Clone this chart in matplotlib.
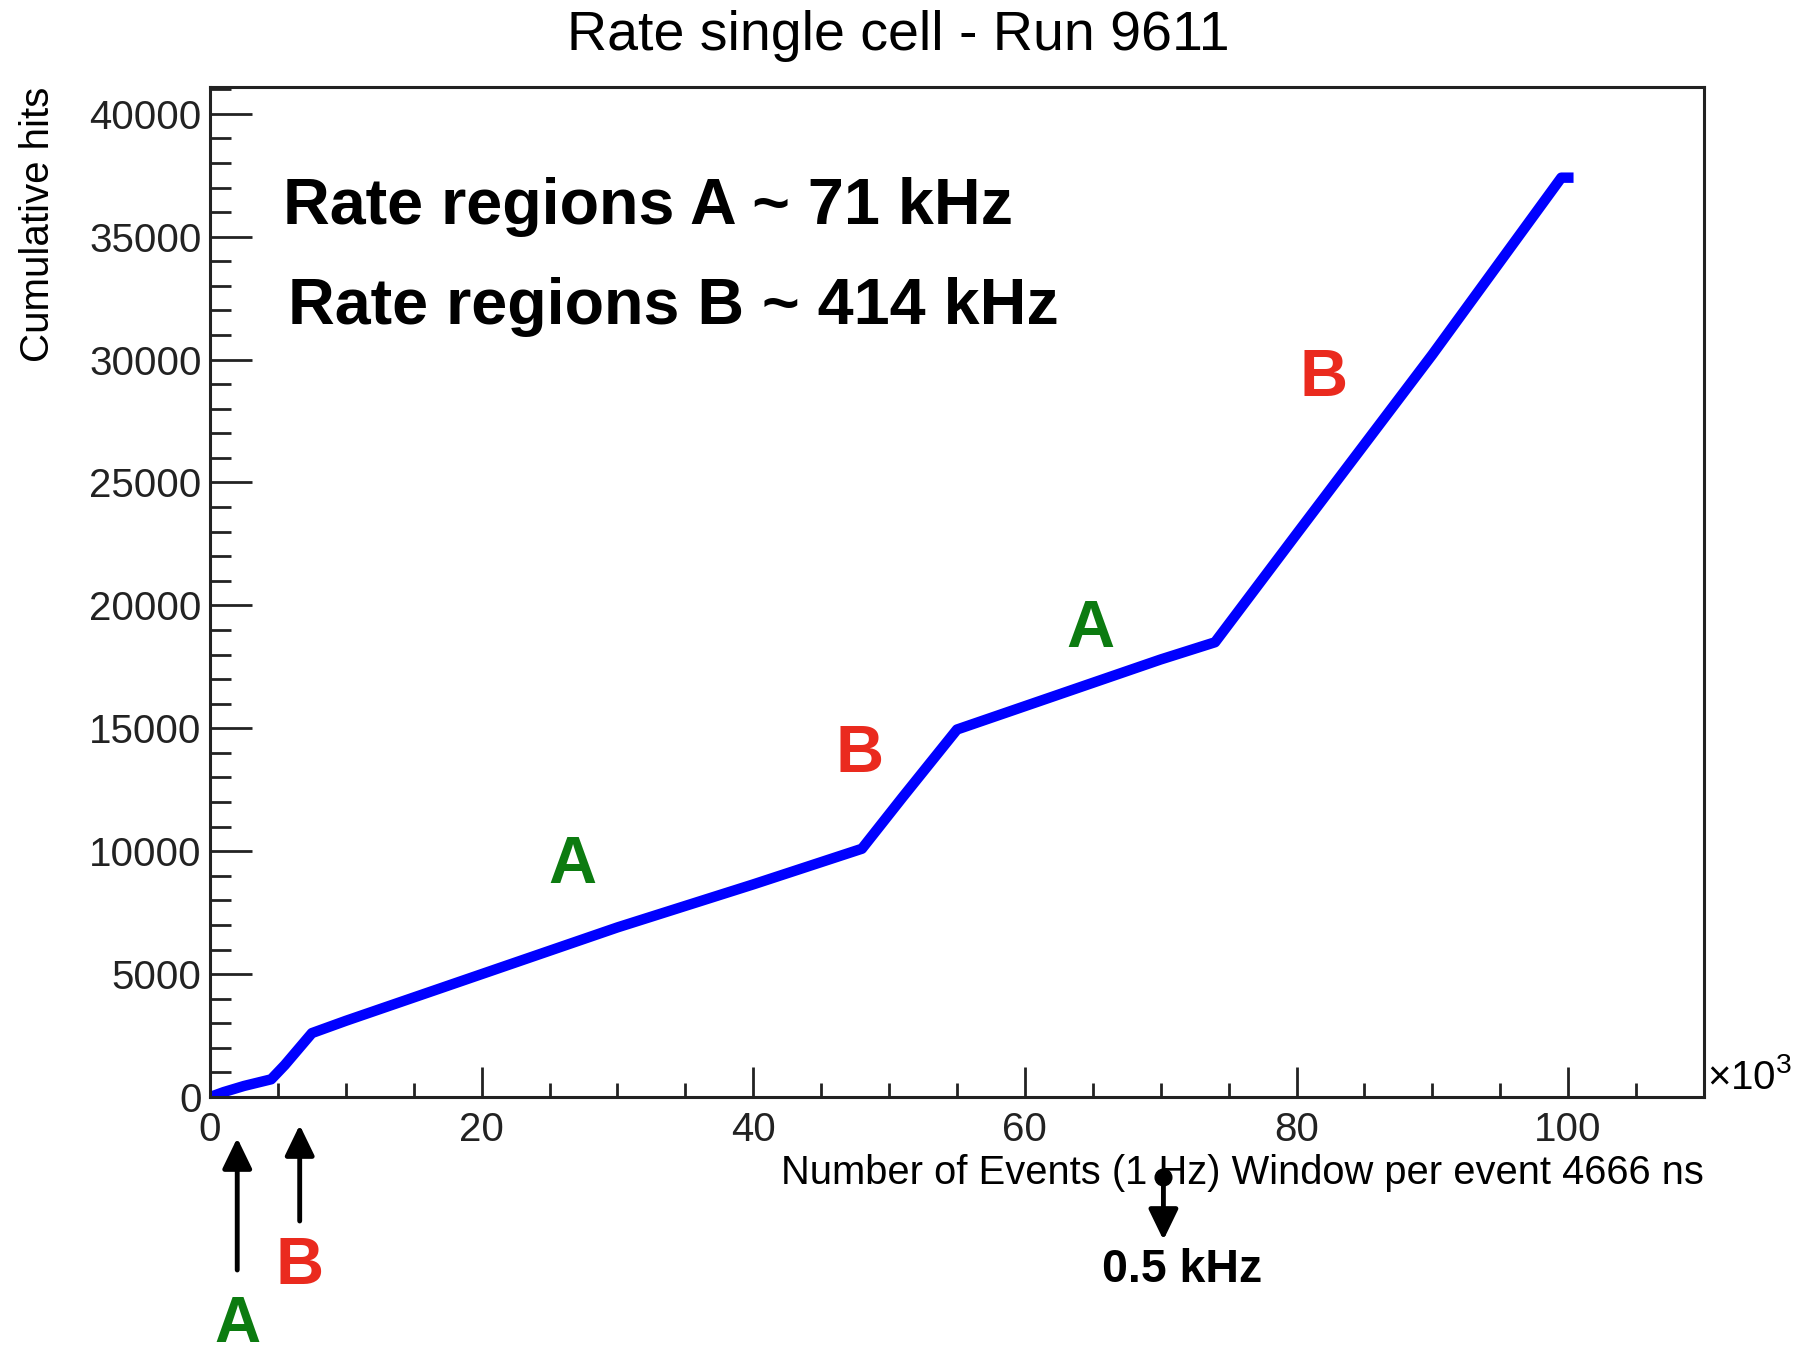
import matplotlib
matplotlib.use('Agg')
import matplotlib.pyplot as plt
from matplotlib.transforms import blended_transform_factory, IdentityTransform

plt.rcParams['font.family'] = ['Liberation Sans', 'DejaVu Sans']
plt.rcParams['mathtext.fontset'] = 'custom'
plt.rcParams['mathtext.rm'] = 'Liberation Sans'

# cumulative hits vs number of events (x in units of 10^3)
events_k = [0, 1, 2.5, 4.5, 5.5, 6.5, 7.5, 10, 20, 30, 40, 48, 51, 55, 60, 65, 70, 74, 80, 90, 99.5, 100.4]
hits = [0, 200, 450, 720, 1300, 1950, 2600, 3100, 5000, 6900, 8650, 10100, 12200, 14950, 15900, 16850, 17800, 18500, 22900, 30200, 37400, 37400]

# region labels inside the plot (x, y, text, colour)
region_x = [26.7, 47.8, 64.8, 82.0]
region_y = [9400, 13900, 19000, 29200]
region_txt = ['A', 'B', 'A', 'B']
green = '#0c7b10'
red = '#ea2a1e'
region_col = [green, red, green, red]

fig = plt.figure(figsize=(17.97, 13.55), dpi=100)
ax = fig.add_axes([0.1169, 0.1904, 0.9482 - 0.1169, 0.936 - 0.1904])

ax.plot(events_k, hits, color='#0000ff', lw=7.5, solid_capstyle='butt')

ax.set_xlim(0, 110)
ax.set_ylim(0, 41100)
ax.set_xticks([0, 20, 40, 60, 80, 100])
ax.set_xticks(range(0, 111, 5), minor=True)
ax.set_yticks(range(0, 40001, 5000))
ax.set_yticks(range(0, 41001, 1000), minor=True)

for s in ax.spines.values():
    s.set_linewidth(2.2)
    s.set_color('#222222')
ax.tick_params(axis='both', which='both', direction='in', colors='#222222', width=2.0,
               labelsize=29, top=False, right=False)
ax.tick_params(axis='x', which='major', length=21.5, pad=10)
ax.tick_params(axis='x', which='minor', length=10)
ax.tick_params(axis='y', which='major', length=30, pad=6)
ax.tick_params(axis='y', which='minor', length=15)

ax.set_xlabel('Number of Events (1 Hz) Window per event 4666 ns', fontsize=28.7, loc='right', labelpad=4)
ax.set_ylabel('Cumulative hits', fontsize=29, loc='top', labelpad=23)
ax.text(1.002, 0.0, r'$\times$10$^{3}$', transform=ax.transAxes, fontsize=29, ha='left', va='bottom')

fig.suptitle('Rate single cell - Run 9611', x=0.5, y=1 - 36 / 1355, va='center', fontsize=40)

ax.text(5.4, 36220, 'Rate regions A ~ 71 kHz', fontsize=46.5, fontweight='bold', va='center', ha='left')
ax.text(5.75, 32150, 'Rate regions B ~ 414 kHz', fontsize=46.5, fontweight='bold', va='center', ha='left')

for x, y, t, c in zip(region_x, region_y, region_txt, region_col):
    ax.text(x, y, t, color=c, fontsize=48, fontweight='bold', ha='center', va='center')

# arrows below the axis (x in data units, y in figure pixels from bottom)
H = 1355
aprops = dict(arrowstyle='-|>,head_length=0.62,head_width=0.3', lw=3.5, color='black',
              mutation_scale=30, shrinkA=0, shrinkB=0)
ax.annotate('', xy=(2.0, H - 1138), xytext=(2.0, H - 1270), xycoords=('data', 'figure pixels'),
            textcoords=('data', 'figure pixels'), arrowprops=aprops, annotation_clip=False)
ax.annotate('', xy=(6.6, H - 1125), xytext=(6.6, H - 1221), xycoords=('data', 'figure pixels'),
            textcoords=('data', 'figure pixels'), arrowprops=aprops, annotation_clip=False)
ax.annotate('A', xy=(2.0, H - 1325), xycoords=('data', 'figure pixels'), color=green,
            fontsize=46, fontweight='bold', ha='center', va='center', annotation_clip=False)
ax.annotate('B', xy=(6.6, H - 1267), xycoords=('data', 'figure pixels'), color=red,
            fontsize=48, fontweight='bold', ha='center', va='center', annotation_clip=False)

# 0.5 kHz marker
ax.annotate('', xy=(70.2, H - 1240), xytext=(70.2, H - 1177), xycoords=('data', 'figure pixels'),
            textcoords=('data', 'figure pixels'), arrowprops=aprops, annotation_clip=False)
tr = blended_transform_factory(ax.transData, IdentityTransform())
ax.plot([70.2], [H - 1177], 'o', color='black', markersize=12, transform=tr, clip_on=False)
ax.annotate('0.5 kHz', xy=(71.6, H - 1270), xycoords=('data', 'figure pixels'),
            fontsize=33.5, fontweight='bold', ha='center', va='center', annotation_clip=False)

fig.savefig('out.png', dpi=100)
